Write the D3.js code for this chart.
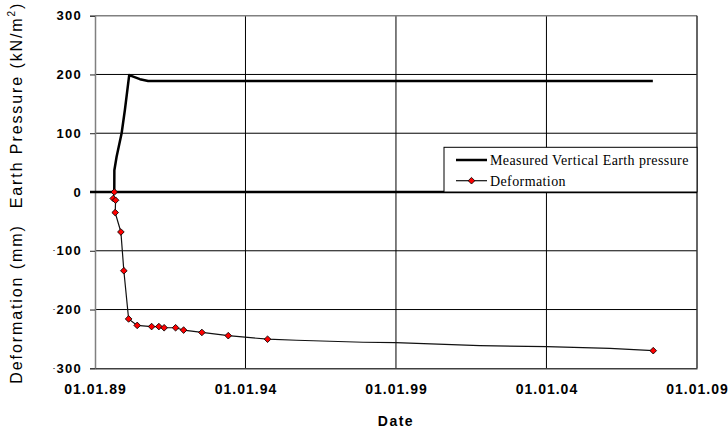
<!DOCTYPE html>
<html>
<head>
<meta charset="utf-8">
<script src="https://cdn.jsdelivr.net/npm/d3@7"></script>
<style>
  body { margin: 0; background: #fff; }
  svg { display: block; }
</style>
</head>
<body>
<svg id="chart" width="728" height="428"></svg>
<script>
// measured vertical earth pressure (kN/m2)
const pressureDates = ['1989-08-23', '1989-08-24', '1989-09-20', '1989-11-20', '1989-12-30',
  '1990-02-20', '1990-06-30', '1990-10-08', '2007-07-15'];
const pressureValues = [0, 37, 60, 100, 140, 199, 192, 189, 189];

// deformation (mm), readings in recorded order
const deformationDates = ['1989-08-23', '1989-08-10', '1989-09-08', '1989-09-03', '1989-11-11',
  '1989-12-17', '1990-02-13', '1990-05-28', '1990-11-19', '1991-02-15', '1991-04-20',
  '1991-09-06', '1991-12-12', '1992-07-21', '1993-06-06', '1994-09-26', '1995-09-13',
  '1997-11-28', '1998-12-28', '2001-10-15', '2004-01-04', '2006-02-09', '2007-07-20'];
const deformationValues = [0, -11, -14, -35, -68, -134, -216, -227, -229, -229, -231,
  -231, -235, -239, -244.5, -250.5, -252.3, -255.7, -256.4, -261.5, -263.2, -266, -270];
const deformationMarked = [1, 1, 1, 1, 1, 1, 1, 1, 1, 1, 1, 1, 1, 1, 1, 1, 0, 0, 0, 0, 0, 0, 1];

const xTickDates = ['1989-01-01', '1994-01-01', '1999-01-01', '2004-01-01', '2009-01-01'];
const yTickValues = [300, 200, 100, 0, -100, -200, -300];
const seriesNames = ['Measured Vertical Earth pressure', 'Deformation'];

const parse = d3.timeParse('%Y-%m-%d');
const fmt = d3.timeFormat('%d.%m.%y');

const plotLeft = 95, plotRight = 697, plotTop = 15.7, plotBottom = 368.3;

const svg = d3.select('#chart');

const x = d3.scaleTime()
    .domain([parse(xTickDates[0]), parse(xTickDates[xTickDates.length - 1])])
    .range([plotLeft, plotRight]);

const y = d3.scaleLinear()
    .domain([-300, 300])
    .range([plotBottom, plotTop]);

// horizontal gridlines
svg.append('g')
  .selectAll('line')
  .data(yTickValues.filter(v => v != 300 && v != -300 && v != 0))
  .join('line')
    .attr('x1', plotLeft).attr('x2', plotRight)
    .attr('y1', d => y(d)).attr('y2', d => y(d))
    .attr('stroke', '#000')
    .attr('stroke-width', 1);

// vertical gridlines
svg.append('g')
  .selectAll('line')
  .data(xTickDates.slice(1, -1).map(parse))
  .join('line')
    .attr('x1', d => x(d)).attr('x2', d => x(d))
    .attr('y1', plotTop).attr('y2', plotBottom)
    .attr('stroke', '#000')
    .attr('stroke-width', 1);

// plot frame
svg.append('line')
    .attr('x1', plotLeft).attr('x2', plotRight).attr('y1', plotTop).attr('y2', plotTop)
    .attr('stroke', '#808080').attr('stroke-width', 1.5);
svg.append('line')
    .attr('x1', plotRight).attr('x2', plotRight).attr('y1', plotTop).attr('y2', plotBottom)
    .attr('stroke', '#333').attr('stroke-width', 1.5);

// y axis
const yAxis = d3.axisLeft(y)
    .tickValues(yTickValues)
    .tickSize(5)
    .tickPadding(0)
    .tickFormat('');

const yg = svg.append('g')
    .attr('transform', `translate(${plotLeft},0)`)
    .call(yAxis);
yg.select('.domain').attr('stroke', '#808080').attr('stroke-width', 1.5);
yg.selectAll('.tick line').attr('stroke', '#222');

const yLabels = svg.append('g')
    .attr('font-family', 'Arial, "Liberation Sans", sans-serif')
    .attr('font-weight', 'bold')
    .attr('font-size', 13)
    .attr('letter-spacing', 1.3)
    .attr('text-anchor', 'end');

yTickValues.forEach(v => {
  const t = yLabels.append('text')
      .attr('x', 82)
      .attr('y', y(v) + 4.6);
  if (v < 0) {
    t.append('tspan').text('-').attr('font-size', 6).attr('dy', -3);
    t.append('tspan').text(Math.abs(v)).attr('dy', 3);
  } else {
    t.text(v);
  }
});

// x axis
const xAxis = d3.axisBottom(x)
    .tickValues(xTickDates.map(parse))
    .tickSize(0)
    .tickPadding(16)
    .tickFormat(fmt);

const xg = svg.append('g')
    .attr('transform', `translate(0,${plotBottom})`)
    .call(xAxis);
xg.select('.domain').attr('stroke', '#404040').attr('stroke-width', 1.5);
xg.selectAll('.tick text')
    .attr('font-family', 'Arial, "Liberation Sans", sans-serif')
    .attr('font-weight', 'bold')
    .attr('font-size', 14)
    .attr('letter-spacing', 1)
    .attr('fill', '#000');

// zero line
svg.append('line')
    .attr('x1', 90).attr('x2', plotRight)
    .attr('y1', y(0)).attr('y2', y(0))
    .attr('stroke', '#000')
    .attr('stroke-width', 2.5);

// earth pressure series
const pressure = pressureDates.map((d, i) => ({ date: parse(d), value: pressureValues[i] }));

const line = d3.line()
    .x(d => x(d.date))
    .y(d => y(d.value));

svg.append('path')
    .datum(pressure)
    .attr('fill', 'none')
    .attr('stroke', '#000')
    .attr('stroke-width', 2.5)
    .attr('stroke-linejoin', 'round')
    .attr('d', line);

// deformation series
const deformation = deformationDates.map((d, i) => ({
  date: parse(d), value: deformationValues[i], marked: deformationMarked[i]
}));

svg.append('path')
    .datum(deformation)
    .attr('fill', 'none')
    .attr('stroke', '#111')
    .attr('stroke-width', 1.2)
    .attr('d', line);

const diamond = d3.symbol().type(d3.symbolSquare).size(22);

svg.append('g')
  .selectAll('path')
  .data(deformation.filter(d => d.marked))
  .join('path')
    .attr('transform', d => `translate(${x(d.date)},${y(d.value)}) rotate(45)`)
    .attr('d', diamond)
    .attr('fill', '#ff0000')
    .attr('stroke', '#000')
    .attr('stroke-width', 0.8);

// legend
const legend = svg.append('g');

legend.append('rect')
    .attr('x', 444).attr('y', 147.3)
    .attr('width', plotRight - 444).attr('height', y(0) - 147.3)
    .attr('fill', '#fff')
    .attr('stroke', '#000')
    .attr('stroke-width', 1);

legend.append('line')
    .attr('x1', 456).attr('x2', 487).attr('y1', 160).attr('y2', 160)
    .attr('stroke', '#000').attr('stroke-width', 2.5);

legend.append('line')
    .attr('x1', 456).attr('x2', 487).attr('y1', 180.7).attr('y2', 180.7)
    .attr('stroke', '#111').attr('stroke-width', 1.2);

legend.append('path')
    .attr('transform', 'translate(471.5,180.7) rotate(45)')
    .attr('d', diamond)
    .attr('fill', '#ff0000')
    .attr('stroke', '#000')
    .attr('stroke-width', 0.8);

legend.selectAll('text')
  .data(seriesNames)
  .join('text')
    .attr('x', 490)
    .attr('y', (d, i) => 164.8 + i * 20.7)
    .attr('font-family', '"Liberation Serif", "Times New Roman", serif')
    .attr('font-size', 14)
    .attr('letter-spacing', 0.4)
    .text(d => d);

// axis titles
const titleFont = 'Arial, "Liberation Sans", sans-serif';

const yTitle1 = svg.append('text')
    .attr('transform', 'translate(22,105) rotate(-90)')
    .attr('text-anchor', 'middle')
    .attr('font-family', titleFont)
    .attr('font-size', 16)
    .attr('letter-spacing', 1.9);
yTitle1.append('tspan').text('Earth Pressure (kN/m');
yTitle1.append('tspan').text('2').attr('font-size', 10).attr('dy', -7);
yTitle1.append('tspan').text(')').attr('dy', 7);

svg.append('text')
    .attr('transform', 'translate(22,304) rotate(-90)')
    .attr('text-anchor', 'middle')
    .attr('font-family', titleFont)
    .attr('font-size', 16)
    .attr('letter-spacing', 1.9)
    .text('Deformation (mm)');

svg.append('text')
    .attr('x', (plotLeft + plotRight) / 2)
    .attr('y', 426)
    .attr('text-anchor', 'middle')
    .attr('font-family', titleFont)
    .attr('font-weight', 'bold')
    .attr('font-size', 14)
    .attr('letter-spacing', 1.5)
    .text('Date');
</script>
</body>
</html>
